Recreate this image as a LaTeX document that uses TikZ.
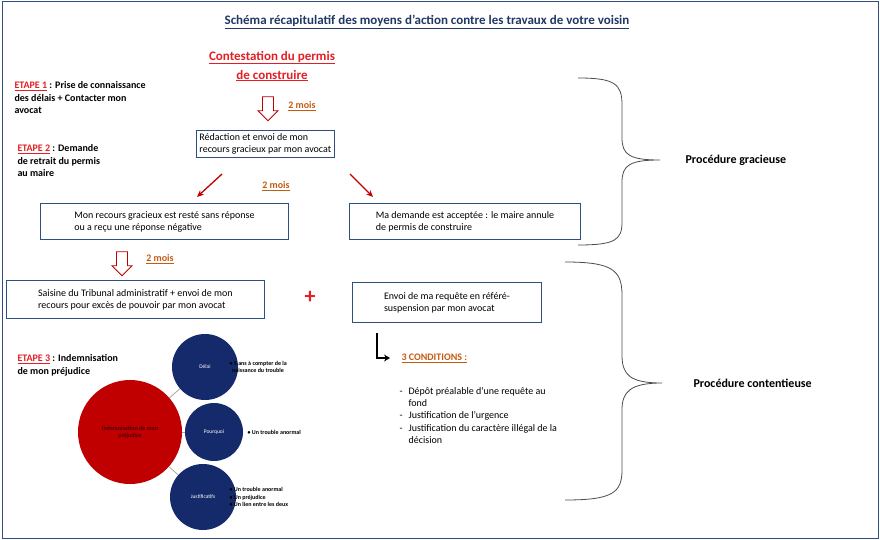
\documentclass[tikz,border=0pt]{standalone}
\usepackage{fontspec}
\setmainfont{Carlito}
\newcommand\myul[1]{\underline{#1}}
\usetikzlibrary{shapes.arrows,arrows.meta}
\definecolor{navy}{HTML}{1F3864}
\definecolor{bxc}{HTML}{2F4F7F}
\definecolor{rd}{HTML}{E31E24}
\definecolor{dred}{HTML}{C00000}
\definecolor{org}{HTML}{C55A11}
\definecolor{cblue}{HTML}{152A6B}
\begin{document}
\begin{tikzpicture}[x=1pt,y=-1pt,
 box/.style={draw=bxc,line width=0.9pt,align=left,anchor=north west,font=\fontsize{10}{12}\selectfont,inner sep=3pt},
 txt/.style={align=left,anchor=north west,font=\fontsize{10}{12.5}\selectfont\bfseries},
 mois/.style={text=org,font=\fontsize{10}{12}\selectfont\bfseries},
 harrow/.style={single arrow,shape border rotate=270,draw=dred,line width=0.9pt,fill=white,minimum height=24pt,minimum width=20pt,single arrow head extend=2pt,inner sep=2pt},
 rarrow/.style={-{Stealth[length=7pt,width=6pt]},draw=dred,line width=1.3pt},
 brace/.style={draw=black!70,line width=0.8pt},
 bc/.style={circle,fill=cblue,text=white,font=\fontsize{5.5}{6}\selectfont,minimum size=#1},
 bl/.style={anchor=west,align=left,font=\fontsize{6}{7.5}\selectfont\bfseries}]
\useasboundingbox (0,0) rectangle (880,540);
\draw[draw=bxc,line width=1pt] (2,2) rectangle (878,538);
\node[font=\fontsize{13}{15}\selectfont\bfseries,text=navy] (title) at (427,22) {\myul{Schéma récapitulatif des moyens d’action contre les travaux de votre voisin}};
\node[font=\fontsize{13}{19}\selectfont\bfseries,text=rd,align=center] (cont) at (272,66) {\myul{Contestation du permis}\\\myul{de construire}};
\node[txt] (e1) at (11,78) {\textcolor{rd}{\myul{ETAPE 1}} : Prise de connaissance\\des délais + Contacter mon\\avocat};
\node[harrow] (a1) at (268,106) {};
\node[mois] (m1) at (302,106) {\myul{2 mois}};
\node[box] (b1) at (196,130) {Rédaction et envoi de mon\\recours gracieux par mon avocat};
\node[txt] (e2) at (14,141) {\textcolor{rd}{\myul{ETAPE 2}} : Demande\\de retrait du permis\\au maire};
\coordinate (r1s) at (222,174); \coordinate (r1e) at (197,197);
\coordinate (r2s) at (350,174); \coordinate (r2e) at (373,197);
\draw[rarrow] (r1s) -- (r1e);
\draw[rarrow] (r2s) -- (r2e);
\node[mois] (m2) at (276,186) {\myul{2 mois}};
\node[box,minimum width=248pt,minimum height=36pt] (b2) at (40,203) {Mon recours gracieux est resté sans réponse\\ou a reçu une réponse négative};
\node[box,minimum width=231pt,minimum height=36pt] (b3) at (349,203) {Ma demande est acceptée : le maire annule\\de permis de construire};
\node[harrow] (a2) at (122,261) {};
\node[mois] (m3) at (160,259) {\myul{2 mois}};
\node[box,minimum width=258pt,minimum height=38pt] (b4) at (6,280) {Saisine du Tribunal administratif + envoi de mon\\recours pour excès de pouvoir par mon avocat};
\node[text=rd,font=\fontsize{22}{22}\selectfont\bfseries] (plus) at (310,297) {+};
\node[box,minimum width=189pt,minimum height=40pt] (b5) at (352,282) {Envoi de ma requête en référé-\\suspension par mon avocat};
\coordinate (l1) at (377,333); \coordinate (l2) at (377,358); \coordinate (l3) at (390,358);
\draw[line width=2pt,-{Stealth[length=6pt,width=7pt]}] (l1) -- (l2) -- (l3);
\node[mois,anchor=west] (c3) at (398,358) {\myul{3 CONDITIONS :}};
\node[anchor=north west,align=left,font=\fontsize{10}{12.3}\selectfont] (cl) at (396,382) {%
\begin{tabular}{@{}l@{\hspace{6pt}}l@{}}
-&Dépôt préalable d’une requête au\\ &fond\\-&Justification de l’urgence\\-&Justification du caractère illégal de la\\ &décision\end{tabular}};
\draw[brace] (578,78) .. controls (615,78) and (622,84) .. (622,105) -- (622,138) .. controls (622,155) and (630,160) .. (660,160)
  .. controls (630,160) and (622,165) .. (622,182) -- (622,222) .. controls (622,240) and (615,245) .. (578,245);
\draw[brace] (565,262) .. controls (612,262) and (622,270) .. (622,295) -- (622,355) .. controls (622,375) and (630,383) .. (662,383)
  .. controls (630,383) and (622,392) .. (622,410) -- (622,470) .. controls (622,493) and (612,500) .. (565,500);
\node[anchor=west,font=\fontsize{12}{14}\selectfont\bfseries] (pg) at (682,160) {Procédure gracieuse};
\node[anchor=west,font=\fontsize{12}{14}\selectfont\bfseries] (pc) at (690,383) {Procédure contentieuse};
\node[txt] (e3) at (14,351) {\textcolor{rd}{\myul{ETAPE 3}} : Indemnisation\\de mon préjudice};
\node[bc=66pt] (d) at (205,367) {Délai};
\node[bc=58pt] (p) at (214,432) {Pourquoi};
\node[bc=66pt] (j) at (203,497) {Justificatifs};
\node[circle,fill=dred,minimum size=104pt,align=center,font=\fontsize{6}{7}\selectfont\bfseries,text=black!70!red] (c) at (130,432) {Indemnisation de mon\\préjudice};
\draw[gray!70,line width=0.8pt] (c) -- (d); \draw[gray!70,line width=0.8pt] (c) -- (p); \draw[gray!70,line width=0.8pt] (c) -- (j);
\node[bl] (dl) at (226,367) {• 5 ans à compter de la\\\ \ naissance du trouble};
\node[bl] (pl) at (244,432) {• Un trouble anormal};
\node[bl] (jl) at (226,497) {• Un trouble anormal\\• Un préjudice\\• Un lien entre les deux};
\end{tikzpicture}
\end{document}
